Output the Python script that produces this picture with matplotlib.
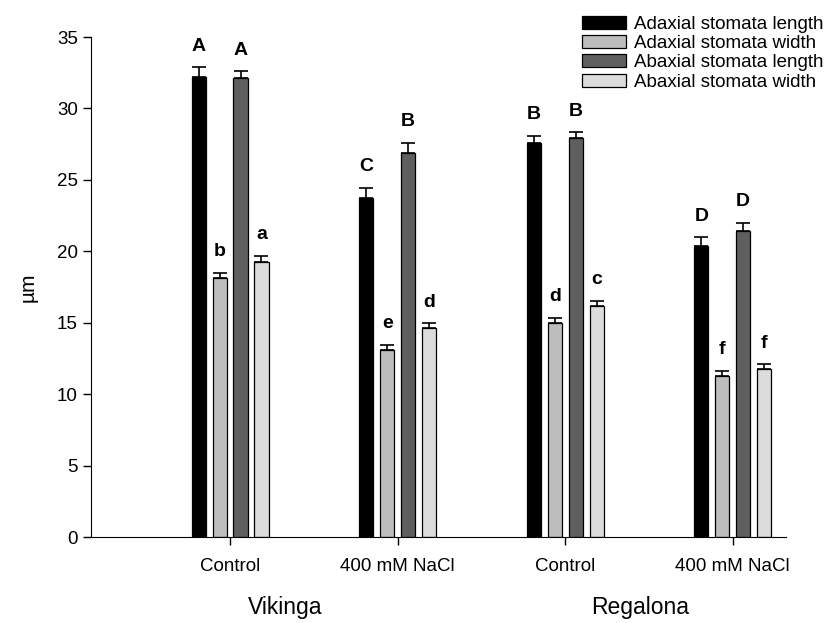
import matplotlib.pyplot as plt
import numpy as np

plt.rcParams['font.family'] = ['Liberation Sans', 'DejaVu Sans']

# treatments and cultivars
treatments = ["Control", "400 mM NaCl", "Control", "400 mM NaCl"]
cultivars = ["Vikinga", "Regalona"]

series_names = ["Adaxial stomata length", "Adaxial stomata width",
                "Abaxial stomata length", "Abaxial stomata width"]

# means (um)
adax_len = [32.2, 23.7, 27.6, 20.4]
adax_wid = [18.1, 13.1, 15.0, 11.25]
abax_len = [32.1, 26.9, 27.9, 21.4]
abax_wid = [19.25, 14.6, 16.2, 11.75]

# standard errors
adax_len_err = [0.7, 0.75, 0.5, 0.6]
adax_wid_err = [0.4, 0.35, 0.35, 0.4]
abax_len_err = [0.5, 0.7, 0.45, 0.6]
abax_wid_err = [0.45, 0.35, 0.35, 0.35]

# significance letters
adax_len_lbl = ["A", "C", "B", "D"]
adax_wid_lbl = ["b", "e", "d", "f"]
abax_len_lbl = ["A", "B", "B", "D"]
abax_wid_lbl = ["a", "d", "c", "f"]

colors = ["#000000", "#bdbdbd", "#5f5f5f", "#dcdcdc"]

values = [adax_len, adax_wid, abax_len, abax_wid]
errors = [adax_len_err, adax_wid_err, abax_len_err, abax_wid_err]
letters = [adax_len_lbl, adax_wid_lbl, abax_len_lbl, abax_wid_lbl]

fig = plt.figure(figsize=(8.37, 6.23), dpi=100)
ax = fig.add_axes([0.1087, 0.138, 0.830, 0.8026])

x = np.arange(len(treatments))
step = 0.125
width = 0.084

for i in range(4):
    pos = x + (i - 1.5) * step
    ax.bar(pos, values[i], width, color=colors[i], edgecolor="black",
           linewidth=0.9, label=series_names[i], zorder=2)
    ax.errorbar(pos, values[i], yerr=[np.zeros(4), errors[i]], fmt="none",
                ecolor="black", elinewidth=1.2, capsize=5, capthick=1.2, zorder=3)
    for p, v, e, t in zip(pos, values[i], errors[i], letters[i]):
        ax.annotate(t, (p, v + e), xytext=(0, 9), textcoords="offset points",
                    ha="center", va="bottom", fontsize=14, fontweight="bold")

ax.set_xlim(-0.83, 3.316)
ax.set_ylim(0, 35)
ax.set_yticks(range(0, 36, 5))
ax.set_xticks(x)
ax.set_xticklabels(treatments)
ax.tick_params(axis="both", labelsize=13.5, length=6, width=1, direction="out")
ax.tick_params(axis="x", pad=9)

ax.spines["top"].set_visible(False)
ax.spines["right"].set_visible(False)
ax.set_ylabel("µm", fontsize=15, labelpad=14)

# cultivar labels under the treatments
ax.text(0.33, -4.95, cultivars[0], ha="center", va="center", fontsize=16.5)
ax.text(2.45, -4.95, cultivars[1], ha="center", va="center", fontsize=16.5)

fig.legend(loc="upper left", bbox_to_anchor=(0.695, 0.975), frameon=False,
           fontsize=13.5, handlelength=2.35, handleheight=0.7, borderpad=0,
           labelspacing=0.12, handletextpad=0.43, borderaxespad=0)

fig.savefig("out.png", dpi=100)
